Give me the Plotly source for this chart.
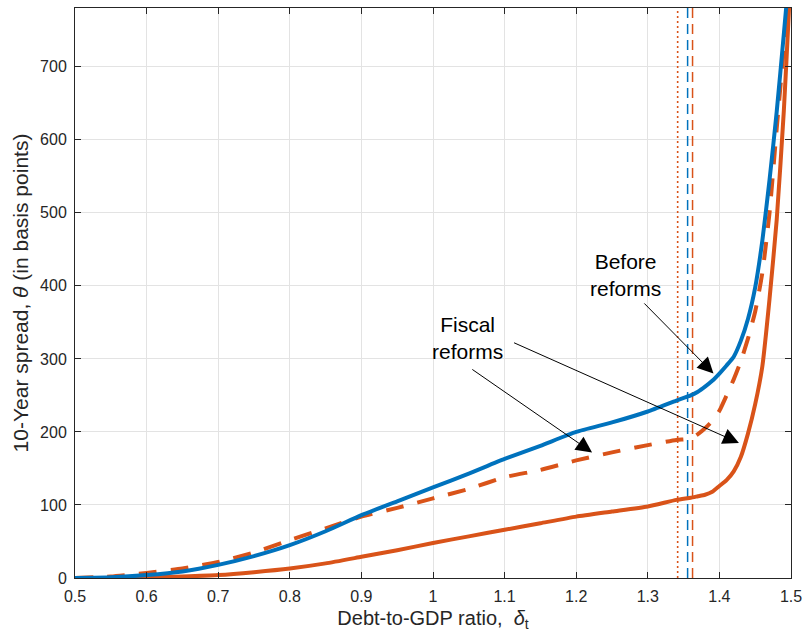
import plotly.graph_objects as go

# Debt-to-GDP grid points
x_before = [0.5, 0.55, 0.6, 0.65, 0.7, 0.75, 0.8, 0.85, 0.9, 0.95, 1.0, 1.05, 1.1, 1.15, 1.2, 1.25, 1.3,
            1.34, 1.36, 1.37, 1.38, 1.39, 1.4, 1.41, 1.42, 1.43, 1.44, 1.45, 1.46, 1.47, 1.48, 1.49, 1.495]
y_before = [0, 1, 4, 9, 18, 30, 45, 64, 86, 105, 124, 143, 163, 181, 200, 213, 228,
            243, 250, 255, 262, 270, 280, 291, 303, 325, 355, 398, 462, 545, 638, 745, 800]

x_fiscal_dash = [0.5, 0.55, 0.6, 0.65, 0.7, 0.75, 0.8, 0.85, 0.9, 0.95, 1.0, 1.05, 1.1, 1.15, 1.2, 1.25, 1.3,
                 1.34, 1.36, 1.37, 1.38, 1.39, 1.4, 1.41, 1.42, 1.43, 1.44, 1.45, 1.46, 1.47, 1.48, 1.49,
                 1.4955, 1.5]
y_fiscal_dash = [0, 2, 7, 13, 22, 35, 52, 68, 84, 96, 109, 122, 138, 148, 161, 172, 182,
                 189, 191, 197, 205, 215, 229, 250, 272, 297, 328, 365, 418, 500, 615, 725,
                 780, 840]

x_fiscal = [0.5, 0.55, 0.6, 0.65, 0.7, 0.75, 0.8, 0.85, 0.9, 0.95, 1.0, 1.05, 1.1, 1.15, 1.2, 1.25, 1.3,
            1.34, 1.36, 1.37, 1.38, 1.39, 1.4, 1.41, 1.42, 1.43, 1.44, 1.45, 1.46, 1.47, 1.48, 1.49,
            1.497, 1.5]
y_fiscal = [0, 0, 0.5, 2, 4, 8, 13, 20, 29, 38, 48, 57, 66, 75, 84, 91, 98,
            107, 110, 112, 114, 118, 126, 134, 146, 166, 198, 238, 290, 382, 490, 640,
            775, 850]

# Vertical threshold lines
vline_dotted = 1.3417
vline_blue = 1.3556
vline_orange = 1.3625

x_ticks = [0.5, 0.6, 0.7, 0.8, 0.9, 1.0, 1.1, 1.2, 1.3, 1.4, 1.5]
x_ticklabels = ["0.5", "0.6", "0.7", "0.8", "0.9", "1", "1.1", "1.2", "1.3", "1.4", "1.5"]
y_ticks = [0, 100, 200, 300, 400, 500, 600, 700]

BLUE = "#0072BD"
ORANGE = "#D95319"
YMAX = 780.5

fig = go.Figure()

fig.add_trace(go.Scatter(x=[vline_dotted, vline_dotted], y=[0, YMAX], mode="lines",
                         line=dict(color=ORANGE, width=1.6, dash="2px,3px"), showlegend=False))
fig.add_trace(go.Scatter(x=[vline_blue, vline_blue], y=[0, YMAX], mode="lines",
                         line=dict(color=BLUE, width=1.5, dash="10px,6px"), showlegend=False))
fig.add_trace(go.Scatter(x=[vline_orange, vline_orange], y=[0, YMAX], mode="lines",
                         line=dict(color=ORANGE, width=1.5, dash="10px,6px"), showlegend=False))

fig.add_trace(go.Scatter(x=x_fiscal, y=y_fiscal, mode="lines",
                         line=dict(color=ORANGE, width=4, shape="spline", smoothing=0.5),
                         showlegend=False))
fig.add_trace(go.Scatter(x=x_fiscal_dash, y=y_fiscal_dash, mode="lines",
                         line=dict(color=ORANGE, width=4, dash="18px,14px", shape="spline", smoothing=0.5),
                         showlegend=False))
fig.add_trace(go.Scatter(x=x_before, y=y_before, mode="lines",
                         line=dict(color=BLUE, width=4, shape="spline", smoothing=0.5),
                         showlegend=False))

font_family = "Liberation Sans, Arial, sans-serif"

annotations = [
    dict(x=1.2694, y=415, text="Before<br>reforms", showarrow=False, xref="x", yref="y",
         font=dict(size=21, color="black", family=font_family)),
    dict(x=1.0486, y=328, text="Fiscal<br>reforms", showarrow=False, xref="x", yref="y",
         font=dict(size=21, color="black", family=font_family)),
]
arrows = [
    (1.3917, 280, 1.2931, 378),
    (1.2222, 172, 1.0528, 287),
    (1.4273, 185, 1.1111, 323),
]
for (tx, ty, sx, sy) in arrows:
    annotations.append(dict(x=tx, y=ty, ax=sx, ay=sy, xref="x", yref="y", axref="x", ayref="y",
                            text="", showarrow=True, arrowhead=2, arrowsize=3.2, arrowwidth=1,
                            arrowcolor="black", standoff=0, startstandoff=0))

axis_common = dict(showgrid=True, gridcolor="#e3e3e3", gridwidth=1, zeroline=False,
                   showline=True, linecolor="#262626", linewidth=1, mirror="ticks",
                   ticks="inside", ticklen=6, tickcolor="#262626", ticklabelstandoff=4,
                   tickfont=dict(size=16, color="#262626", family=font_family))

fig.update_layout(
    width=809, height=644,
    margin=dict(l=75, r=14, t=7, b=66),
    paper_bgcolor="white", plot_bgcolor="white",
    xaxis=dict(range=[0.5, 1.5], tickvals=x_ticks, ticktext=x_ticklabels,
               title=dict(text="Debt-to-GDP ratio,  <i>δ</i><sub>t</sub>", standoff=6,
                          font=dict(size=20, color="#262626", family=font_family)),
               **axis_common),
    yaxis=dict(range=[0, YMAX], tickvals=y_ticks,
               title=dict(text="10-Year spread, <i>θ</i> (in basis points)", standoff=5,
                          font=dict(size=21, color="#262626", family=font_family)),
               **axis_common),
    annotations=annotations,
)

fig.write_html("out.html", config={"displayModeBar": False},
               post_script="document.body.style.margin='0';")
